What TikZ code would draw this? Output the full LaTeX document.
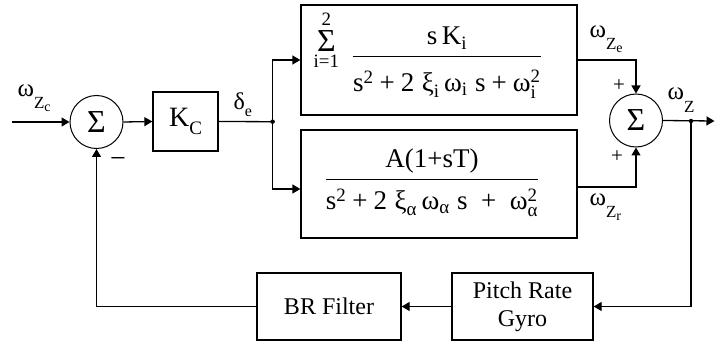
\RequirePackage{fix-cm}
\documentclass[tikz,border=0pt]{standalone}
\usepackage{amsmath}
\usepackage{fontspec}
\setmainfont{Liberation Serif}
\usetikzlibrary{arrows.meta}
\newcommand\plusop{\mathbin{\text{+}}}
\newcommand\wZ[1]{ω\raisebox{-12pt}{\fontsize{17}{17}\selectfont Z\raisebox{-3pt}{\fontsize{14}{14}\selectfont #1}}}
\tikzset{
  blk/.style={draw, line width=1.3pt, inner sep=0pt},
  sumnode/.style={draw, circle, line width=1pt, minimum size=53pt, inner sep=0pt, font=\fontsize{32}{32}\selectfont},
  arr/.style={-{Triangle[length=8pt,width=9pt]}},
  lab/.style={inner sep=0pt},
  dotc/.style={circle, fill, inner sep=0pt, minimum size=4.5pt},
}
\begin{document}
\begin{tikzpicture}[x=1pt,y=-1pt, line width=1.3pt, font=\fontsize{24}{28}\selectfont]
\useasboundingbox (0,0) rectangle (715,342);

% sum junctions
\node[sumnode] (s1) at (96.5,122) {Σ};
\node[sumnode] (s2) at (636,120.5) {Σ};

% blocks
\node[blk, minimum width=65pt, minimum height=59pt, font=\fontsize{28}{30}\selectfont] (kc) at (185.5,121.5)
  {K\raisebox{-8pt}{\fontsize{19}{19}\selectfont C}};
\node[blk, minimum width=276pt, minimum height=110pt] (top) at (439,60) {};
\node[blk, minimum width=276pt, minimum height=108pt] (bot) at (439,184) {};
\node[blk, minimum width=144pt, minimum height=67pt] (br) at (329,306.5) {BR Filter};
\node[blk, minimum width=141pt, minimum height=67pt, align=center] (gyro) at (522.5,306.5) {Pitch Rate\\Gyro};

% transfer functions
\node[lab, anchor=base west, font=\fontsize{27}{30}\selectfont] (topf) at (313,63.25)
  {$\raisebox{12pt}{$\underset{\text{i=1}}{\overset{\text{2}}{\text{\fontsize{32}{32}\selectfont Σ}}}$}\hspace{13pt}\dfrac{\text{s\,K}_{\text{i}}}{\rule{0pt}{31.5pt}\text{s}^{\text{2}}\plusop\text{2}\;\text{ξ}_{\text{i}}\,\text{ω}_{\text{i}}\;\text{s}\plusop\text{ω}_{\text{i}}^{\text{2}}}$};
\node[lab, anchor=base, font=\fontsize{27}{30}\selectfont] (botf) at (432,186.25)
  {$\dfrac{\text{A(1+sT)}}{\rule{0pt}{26.5pt}\text{s}^{\text{2}}\plusop\text{2}\;\text{ξ}_{\text{α}}\,\text{ω}_{\text{α}}\;\text{s}\;\plusop\;\text{ω}_{\text{α}}^{\text{2}}}$};

% junction dots and free ends
\node[dotc] (j1) at (272.6,121.7) {};
\node[dotc] (j2) at (691,121) {};
\coordinate (in) at (12,122);
\coordinate (out) at (714.5,121);

% connectors
\draw[arr] (in) -- (s1.west);
\draw[arr] (s1.east) -- (kc.west);
\draw (kc.east) -- (j1.center);
\draw[arr] (j1.center) |- (top.west);
\draw[arr] (j1.center) |- ([yshift=-5pt]bot.west);
\draw[arr] (top.east) -| (s2.north);
\draw[arr] ([yshift=-3pt]bot.east) -| (s2.south);
\draw[arr] (s2.east) -- (out);
\draw[arr] (j2.center) |- (gyro.east);
\draw[arr] (gyro.west) -- (br.east);
\draw[arr] (br.west) -| (s1.south);

% labels
\node[lab, anchor=base west, font=\fontsize{25}{28}\selectfont] (lzc) at (17,97) {\wZ{c}};
\node[lab, font=\fontsize{28}{28}\selectfont] (lminus) at (118,163) {−};
\node[lab, anchor=base west] (lde) at (233,110) {δ\raisebox{-7pt}{\fontsize{16}{16}\selectfont e}};
\node[lab, anchor=base west, font=\fontsize{25}{28}\selectfont] (lze) at (589,38) {\wZ{e}};
\node[lab, anchor=base west, font=\fontsize{25}{28}\selectfont] (lzr) at (589,205) {\wZ{r}};
\node[lab, font=\fontsize{21}{22}\selectfont] (lp1) at (619,86) {+};
\node[lab, font=\fontsize{21}{22}\selectfont] (lp2) at (617,157) {+};
\node[lab, anchor=base west, font=\fontsize{25}{28}\selectfont] (lz) at (667,100)
  {ω\raisebox{-13pt}{\fontsize{17}{17}\selectfont Z}};
\end{tikzpicture}
\end{document}
